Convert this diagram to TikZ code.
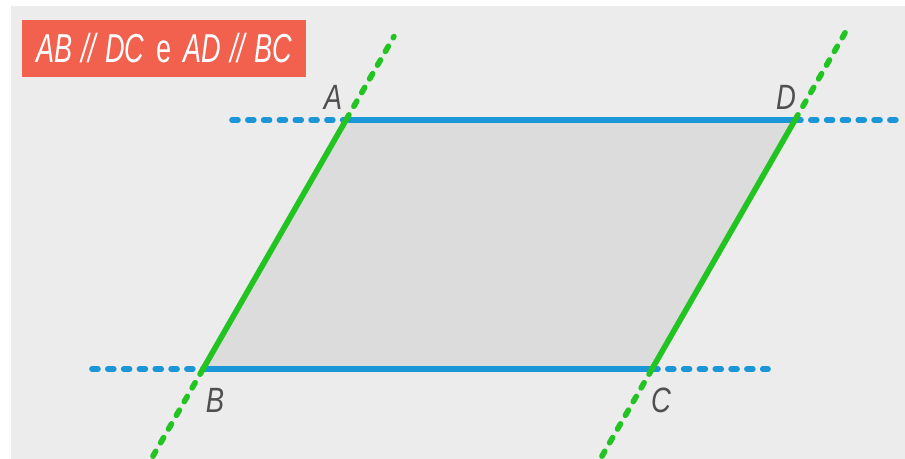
\documentclass[tikz,border=0pt]{standalone}
\usepackage{fontspec}
\setsansfont{Liberation Sans}
\usepackage{xcolor}
\usetikzlibrary{positioning,calc}

\definecolor{bgGray}{HTML}{ECECEC}
\definecolor{areaGray}{HTML}{DCDCDC}
\definecolor{lineBlue}{HTML}{1B96D6}
\definecolor{lineGreen}{HTML}{22C422}
\definecolor{tagRed}{HTML}{F2604E}
\definecolor{labelGray}{HTML}{4F4F4F}

\tikzset{
  side/.style={line width=3.2pt},
  sidedash/.style={line width=3.2pt, line cap=round, dash pattern=on 3.4pt off 5.6pt},
  vertex/.style={font=\sffamily\itshape\fontsize{20}{20}\selectfont, text=labelGray, inner sep=0pt, xscale=0.78, transform shape},
  tag/.style={fill=tagRed, text=white, minimum width=5.68cm, minimum height=1.14cm, inner sep=0pt,
    font=\sffamily\itshape\fontsize{23}{23}\selectfont}
}

\begin{document}
\begin{tikzpicture}
  \useasboundingbox (0,0) rectangle (18.1,9.18);
  \fill[bgGray] (0.22,0) rectangle (18.1,9.06);
  % ---- vertices
  \coordinate (A) at (6.92,6.78);
  \coordinate (D) at (15.9,6.78);
  \coordinate (B) at (4.06,1.80);
  \coordinate (C) at (13.04,1.80);
  % ---- line ends
  \coordinate (ABtop) at ($(A)!-0.335!(B)$);
  \coordinate (ABbot) at ($(B)!-0.35!(A)$);
  \coordinate (DCtop) at ($(D)!-0.35!(C)$);
  \coordinate (DCbot) at ($(C)!-0.35!(D)$);
  \coordinate (ADleft) at (4.64,6.78);
  \coordinate (ADright) at (18.1,6.78);
  \coordinate (BCleft) at (1.84,1.80);
  \coordinate (BCright) at (15.36,1.80);
  % ---- parallelogram
  \fill[areaGray] (A) -- (D) -- (C) -- (B) -- cycle;
  % ---- blue parallels
  \draw[sidedash, lineBlue] (ADleft) -- (A);
  \draw[sidedash, lineBlue] (D) -- (ADright);
  \draw[sidedash, lineBlue] (BCleft) -- (B);
  \draw[sidedash, lineBlue] (C) -- (BCright);
  \draw[side, lineBlue] (A) -- (D);
  \draw[side, lineBlue] (B) -- (C);
  % ---- green parallels
  \draw[sidedash, lineGreen] (A) -- (ABtop);
  \draw[sidedash, lineGreen] (B) -- (ABbot);
  \draw[sidedash, lineGreen] (D) -- (DCtop);
  \draw[sidedash, lineGreen] (C) -- (DCbot);
  \draw[side, lineGreen] (A) -- (B);
  \draw[side, lineGreen] (D) -- (C);
  % ---- labels
  \node[vertex] (labA) at (6.66,7.24) {A};
  \node[vertex] (labD) at (15.72,7.24) {D};
  \node[vertex] (labB) at (4.30,1.18) {B};
  \node[vertex] (labC) at (13.22,1.18) {C};
  \node[tag] (cond) at (3.28,8.21) {\scalebox{0.67}[1]{AB\,\,//\,\,DC \,\textup{e}\, AD\,\,//\,\,BC}};
\end{tikzpicture}
\end{document}
